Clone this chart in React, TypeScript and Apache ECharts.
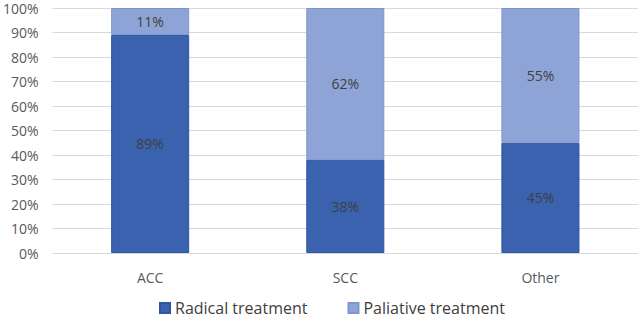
import React, { useEffect, useRef } from "react";
import * as echarts from "echarts";

const categories = ["ACC", "SCC", "Other"];
const radical = [89, 38, 45];
const paliative = [11, 62, 55];
const seriesNames = ["Radical treatment", "Paliative treatment"];

export default function App() {
  const ref = useRef<HTMLDivElement>(null);
  useEffect(() => {
    document.body.style.margin = "0";
    const chart = echarts.init(ref.current!, null, { renderer: "svg" });
    const font = "'Open Sans', 'Noto Sans', sans-serif";
    const label = {
      show: true,
      position: "inside",
      color: "#404040",
      fontSize: 14,
      fontFamily: font,
      formatter: (p: any) => p.value + "%",
    };
    chart.setOption({
      animation: false,
      grid: { left: 52, right: 0, top: 8, bottom: 66 },
      legend: {
        bottom: -2,
        left: 154,
        itemWidth: 10,
        itemHeight: 10,
        itemGap: 40,
        icon: "rect",
        textStyle: { fontSize: 16, color: "#404040", fontFamily: font },
        data: seriesNames,
      },
      xAxis: {
        type: "category",
        data: categories,
        axisLine: { show: false },
        axisTick: { show: false },
        axisLabel: { color: "#595959", fontSize: 14, margin: 17, fontFamily: font },
      },
      yAxis: {
        type: "value",
        min: 0,
        max: 100,
        interval: 10,
        axisLabel: {
          color: "#595959",
          fontSize: 14,
          lineHeight: 15,
          margin: 14,
          fontFamily: font,
          formatter: (v: number) => v + "%",
        },
        splitLine: { lineStyle: { color: "#d9d9d9", width: 1 } },
      },
      series: [
        {
          name: seriesNames[0],
          type: "bar",
          stack: "a",
          barWidth: "40%",
          data: radical,
          itemStyle: { color: "#3a62ae", borderColor: "#2f55a3", borderWidth: 1 },
          label,
        },
        {
          name: seriesNames[1],
          type: "bar",
          stack: "a",
          barWidth: "40%",
          data: paliative,
          itemStyle: { color: "#8fa4d6", borderColor: "#7e96d0", borderWidth: 1 },
          label,
        },
      ],
    });
    return () => chart.dispose();
  }, []);
  return <div ref={ref} style={{ width: 638, height: 319 }} />;
}
